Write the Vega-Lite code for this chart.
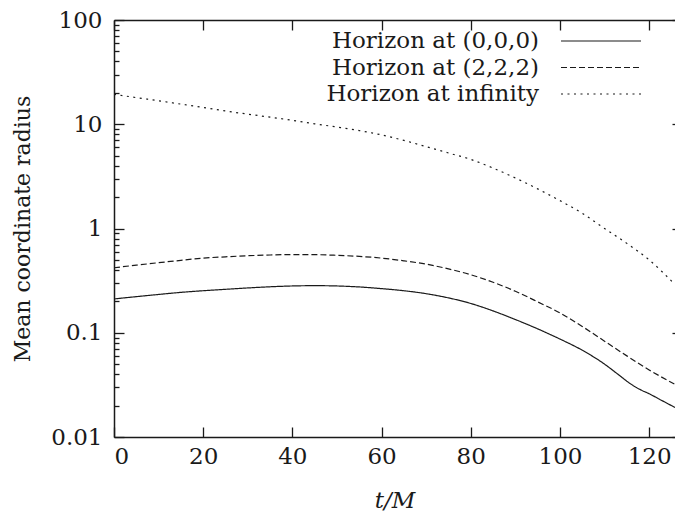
{
  "$schema": "https://vega.github.io/schema/vega-lite/v6.json",
  "width": 561,
  "height": 417,
  "autosize": {"type": "none"},
  "padding": {"left": 114, "top": 20, "right": 0, "bottom": 82},
  "background": "white",
  "config": {
    "view": {"stroke": null},
    "axis": {
      "grid": false,
      "labelFont": "DejaVu Serif",
      "labelFontSize": 23,
      "labelColor": "#1a1a1a",
      "titleFont": "DejaVu Serif",
      "titleFontSize": 23,
      "titleFontWeight": "normal",
      "titleColor": "#1a1a1a",
      "domainColor": "#1a1a1a",
      "tickColor": "#1a1a1a",
      "domainWidth": 1.5,
      "tickWidth": 1.3
    }
  },
  "data": {
    "values": [
      {"series": "Horizon at (0,0,0)", "t": 0, "r": 0.211},
      {"series": "Horizon at (0,0,0)", "t": 5, "r": 0.222},
      {"series": "Horizon at (0,0,0)", "t": 10, "r": 0.233},
      {"series": "Horizon at (0,0,0)", "t": 15, "r": 0.244},
      {"series": "Horizon at (0,0,0)", "t": 20, "r": 0.253},
      {"series": "Horizon at (0,0,0)", "t": 25, "r": 0.261},
      {"series": "Horizon at (0,0,0)", "t": 30, "r": 0.269},
      {"series": "Horizon at (0,0,0)", "t": 35, "r": 0.276},
      {"series": "Horizon at (0,0,0)", "t": 40, "r": 0.281},
      {"series": "Horizon at (0,0,0)", "t": 45, "r": 0.283},
      {"series": "Horizon at (0,0,0)", "t": 50, "r": 0.281},
      {"series": "Horizon at (0,0,0)", "t": 55, "r": 0.275},
      {"series": "Horizon at (0,0,0)", "t": 60, "r": 0.265},
      {"series": "Horizon at (0,0,0)", "t": 65, "r": 0.253},
      {"series": "Horizon at (0,0,0)", "t": 70, "r": 0.237},
      {"series": "Horizon at (0,0,0)", "t": 75, "r": 0.216},
      {"series": "Horizon at (0,0,0)", "t": 80, "r": 0.191},
      {"series": "Horizon at (0,0,0)", "t": 85, "r": 0.162},
      {"series": "Horizon at (0,0,0)", "t": 90, "r": 0.134},
      {"series": "Horizon at (0,0,0)", "t": 95, "r": 0.109},
      {"series": "Horizon at (0,0,0)", "t": 100, "r": 0.087},
      {"series": "Horizon at (0,0,0)", "t": 105, "r": 0.068},
      {"series": "Horizon at (0,0,0)", "t": 110, "r": 0.050},
      {"series": "Horizon at (0,0,0)", "t": 113, "r": 0.040},
      {"series": "Horizon at (0,0,0)", "t": 116, "r": 0.032},
      {"series": "Horizon at (0,0,0)", "t": 118, "r": 0.0285},
      {"series": "Horizon at (0,0,0)", "t": 120, "r": 0.026},
      {"series": "Horizon at (0,0,0)", "t": 122.5, "r": 0.0228},
      {"series": "Horizon at (0,0,0)", "t": 125.8, "r": 0.0192},
      {"series": "Horizon at (2,2,2)", "t": 0, "r": 0.42},
      {"series": "Horizon at (2,2,2)", "t": 5, "r": 0.445},
      {"series": "Horizon at (2,2,2)", "t": 10, "r": 0.47},
      {"series": "Horizon at (2,2,2)", "t": 15, "r": 0.495},
      {"series": "Horizon at (2,2,2)", "t": 20, "r": 0.52},
      {"series": "Horizon at (2,2,2)", "t": 25, "r": 0.535},
      {"series": "Horizon at (2,2,2)", "t": 30, "r": 0.548},
      {"series": "Horizon at (2,2,2)", "t": 35, "r": 0.557},
      {"series": "Horizon at (2,2,2)", "t": 40, "r": 0.562},
      {"series": "Horizon at (2,2,2)", "t": 45, "r": 0.561},
      {"series": "Horizon at (2,2,2)", "t": 50, "r": 0.553},
      {"series": "Horizon at (2,2,2)", "t": 55, "r": 0.54},
      {"series": "Horizon at (2,2,2)", "t": 60, "r": 0.52},
      {"series": "Horizon at (2,2,2)", "t": 65, "r": 0.49},
      {"series": "Horizon at (2,2,2)", "t": 70, "r": 0.455},
      {"series": "Horizon at (2,2,2)", "t": 75, "r": 0.41},
      {"series": "Horizon at (2,2,2)", "t": 80, "r": 0.36},
      {"series": "Horizon at (2,2,2)", "t": 85, "r": 0.305},
      {"series": "Horizon at (2,2,2)", "t": 90, "r": 0.25},
      {"series": "Horizon at (2,2,2)", "t": 95, "r": 0.198},
      {"series": "Horizon at (2,2,2)", "t": 100, "r": 0.155},
      {"series": "Horizon at (2,2,2)", "t": 105, "r": 0.115},
      {"series": "Horizon at (2,2,2)", "t": 110, "r": 0.083},
      {"series": "Horizon at (2,2,2)", "t": 115, "r": 0.06},
      {"series": "Horizon at (2,2,2)", "t": 120, "r": 0.044},
      {"series": "Horizon at (2,2,2)", "t": 125.8, "r": 0.032},
      {"series": "Horizon at infinity", "t": 0, "r": 19.4},
      {"series": "Horizon at infinity", "t": 5, "r": 18.0},
      {"series": "Horizon at infinity", "t": 10, "r": 16.8},
      {"series": "Horizon at infinity", "t": 15, "r": 15.6},
      {"series": "Horizon at infinity", "t": 20, "r": 14.5},
      {"series": "Horizon at infinity", "t": 25, "r": 13.4},
      {"series": "Horizon at infinity", "t": 30, "r": 12.5},
      {"series": "Horizon at infinity", "t": 35, "r": 11.7},
      {"series": "Horizon at infinity", "t": 40, "r": 10.9},
      {"series": "Horizon at infinity", "t": 45, "r": 10.1},
      {"series": "Horizon at infinity", "t": 50, "r": 9.4},
      {"series": "Horizon at infinity", "t": 55, "r": 8.7},
      {"series": "Horizon at infinity", "t": 60, "r": 7.9},
      {"series": "Horizon at infinity", "t": 65, "r": 7.0},
      {"series": "Horizon at infinity", "t": 70, "r": 6.1},
      {"series": "Horizon at infinity", "t": 75, "r": 5.3},
      {"series": "Horizon at infinity", "t": 80, "r": 4.6},
      {"series": "Horizon at infinity", "t": 85, "r": 3.8},
      {"series": "Horizon at infinity", "t": 90, "r": 3.05},
      {"series": "Horizon at infinity", "t": 95, "r": 2.4},
      {"series": "Horizon at infinity", "t": 100, "r": 1.85},
      {"series": "Horizon at infinity", "t": 105, "r": 1.4},
      {"series": "Horizon at infinity", "t": 110, "r": 1.0},
      {"series": "Horizon at infinity", "t": 115, "r": 0.72},
      {"series": "Horizon at infinity", "t": 120, "r": 0.5},
      {"series": "Horizon at infinity", "t": 125.8, "r": 0.29}
    ]
  },
  "layer": [
    {
      "mark": {"type": "line", "strokeWidth": 1.2, "color": "#1a1a1a", "interpolate": "monotone", "clip": true},
      "encoding": {
        "x": {
          "field": "t", "type": "quantitative",
          "scale": {"domain": [0, 125.8], "nice": false, "zero": false},
          "axis": {"orient": "bottom", "values": [0, 20, 40, 60, 80, 100, 120], "tickSize": -10, "labelPadding": 18, "title": "t/M", "titleFontStyle": "italic", "titlePadding": 21}
        },
        "y": {
          "field": "r", "type": "quantitative",
          "scale": {"type": "log", "domain": [0.01, 100], "nice": false},
          "axis": {"orient": "left", "values": [0.01, 0.1, 1, 10, 100], "format": "~g", "tickSize": -10, "labelPadding": 22, "title": "Mean coordinate radius", "titleFontSize": 22, "titlePadding": 16}
        },
        "strokeDash": {
          "field": "series", "type": "nominal",
          "scale": {"domain": ["Horizon at (0,0,0)", "Horizon at (2,2,2)", "Horizon at infinity"], "range": [[1, 0], [6, 3], [2, 4.5]]},
          "legend": {
            "orient": "none", "legendX": 475.5, "legendY": 9.5, "title": null,
            "symbolType": "M-4,0H4", "symbolSize": 400, "symbolStrokeWidth": 1.2, "symbolStrokeColor": "#1a1a1a",
            "labelAlign": "right", "labelOffset": -73.5, "rowPadding": 2.5, "padding": 0,
            "labelFont": "DejaVu Serif", "labelFontSize": 23, "labelColor": "#1a1a1a", "labelLimit": 400
          }
        }
      }
    },
    {
      "mark": {"type": "line", "opacity": 0},
      "encoding": {
        "x": {
          "field": "t", "type": "quantitative",
          "scale": {"domain": [0, 125.8], "nice": false, "zero": false},
          "axis": {"orient": "top", "values": [0, 20, 40, 60, 80, 100, 120], "tickSize": -10, "labels": false, "title": null}
        },
        "y": {
          "field": "r", "type": "quantitative",
          "scale": {"type": "log", "domain": [0.01, 100], "nice": false},
          "axis": {"orient": "left", "values": [0.02, 0.03, 0.04, 0.05, 0.06, 0.07, 0.08, 0.09, 0.2, 0.3, 0.4, 0.5, 0.6, 0.7, 0.8, 0.9, 2, 3, 4, 5, 6, 7, 8, 9, 20, 30, 40, 50, 60, 70, 80, 90], "tickSize": -5, "labels": false, "domain": false, "title": null}
        },
        "detail": {"field": "series", "type": "nominal"}
      }
    },
    {
      "mark": {"type": "line", "opacity": 0},
      "encoding": {
        "x": {
          "field": "t", "type": "quantitative",
          "scale": {"domain": [0, 125.8], "nice": false, "zero": false},
          "axis": null
        },
        "y": {
          "field": "r", "type": "quantitative",
          "scale": {"type": "log", "domain": [0.01, 100], "nice": false},
          "axis": {"orient": "right", "offset": 7, "values": [0.01, 0.1, 1, 10, 100], "tickSize": -10, "labels": false, "title": null}
        },
        "detail": {"field": "series", "type": "nominal"}
      }
    }
  ],
  "resolve": {"axis": {"x": "independent", "y": "independent"}}
}
